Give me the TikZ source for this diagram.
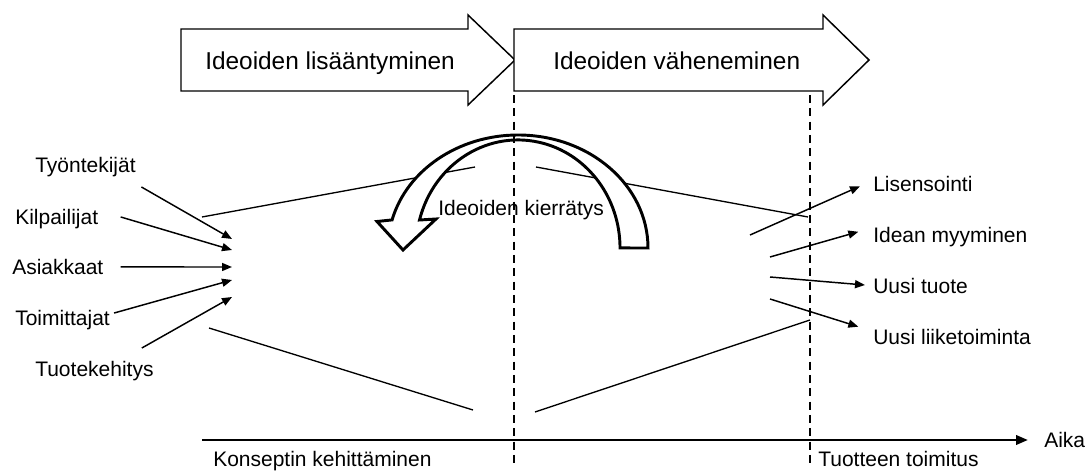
\documentclass[tikz,border=0pt]{standalone}
\usepackage{fontspec}
\setmainfont{Liberation Sans}
\usetikzlibrary{arrows.meta}
\tikzset{
  phase/.style={draw, fill=white, line width=1.1pt},
  phasetext/.style={anchor=base west, inner sep=0pt, font=\fontsize{18.3}{21}\selectfont},
  klabel/.style={anchor=base west, inner sep=0pt, text height=11.8pt, text depth=3.9pt, font=\fontsize{15.75}{18}\selectfont},
  flow/.style={-{Triangle[length=7.5pt, width=6pt]}, line width=1.1pt},
  funnel/.style={line width=1pt},
  milestone/.style={dash pattern=on 6pt off 4pt, line width=0.8pt},
  timeline/.style={-{Triangle[length=9pt, width=7pt]}, line width=2pt},
  recycle/.style={draw, fill=white, line width=2.2pt},
}

\begin{document}
\begin{tikzpicture}[x=0.75pt, y=0.75pt]
    \useasboundingbox (0,0) rectangle (1088,471);
    \draw[phase] (181,380) -- (181,442) -- (468,442) -- (468,456) -- (515,411) -- (468,366) -- (468,380) -- cycle;
    \draw[phase] (514,380) -- (514,442) -- (823,442) -- (823,456) -- (869,411) -- (823,366) -- (823,380) -- cycle;
    \node[phasetext] (grow) at (205,401) {Ideoiden lisääntyminen};
    \node[phasetext] (shrink) at (553,401) {Ideoiden väheneminen};
    \draw[funnel] (202,254) -- (475,304);
    \draw[funnel] (536,304) -- (808,254);
    \draw[funnel] (209,143) -- (473,61);
    \draw[funnel] (535,59) -- (810,151);
    \draw[recycle] (648,223) arc[start angle=0, end angle=165.6, x radius=130, y radius=113]
        -- (377,249.5) -- (403,221) -- (436,252) -- (419.5,251)
        arc[start angle=165, end angle=0, x radius=102, y radius=108] -- cycle;
    \coordinate (split) at (514,376);
    \coordinate (deliver) at (810,376);
    \draw[milestone] (split) -- ++(0,-369);
    \draw[milestone] (deliver) -- ++(0,-369);
    \node[klabel] (kierratys) at (438,255.5) {Ideoiden kierrätys};
    \node[klabel] (tyontekijat) at (35,298.5) {Työntekijät};
    \node[klabel] (kilpailijat) at (15,246.5) {Kilpailijat};
    \node[klabel] (asiakkaat) at (12,196.5) {Asiakkaat};
    \node[klabel] (toimittajat) at (15,145.5) {Toimittajat};
    \node[klabel] (tuotekehitys) at (35,94.5) {Tuotekehitys};
    \node[klabel] (lisensointi) at (873,279.5) {Lisensointi};
    \node[klabel] (myynti) at (873,228.5) {Idean myyminen};
    \node[klabel] (tuote) at (873,177.5) {Uusi tuote};
    \node[klabel] (liiketoiminta) at (873,126.5) {Uusi liiketoiminta};
    \coordinate (in1) at (232,232);
    \coordinate (in2) at (232,221);
    \coordinate (in3) at (232,204);
    \coordinate (in4) at (232,191);
    \coordinate (in5) at (232,174);
    \coordinate (out1) at (750,236);
    \coordinate (out2) at (770,214);
    \coordinate (out3) at (770,194);
    \coordinate (out4) at (770,172);
    \draw[flow] ([xshift=4.1pt, yshift=-14.8pt]tyontekijat.east) -- (in1);
    \draw[flow] ([xshift=16.7pt, yshift=1.7pt]kilpailijat.east) -- (in2);
    \draw[flow] ([xshift=12.75pt, yshift=1.7pt]asiakkaat.east) -- (in3);
    \draw[flow] ([xshift=3pt, yshift=5.4pt]toimittajat.east) -- (in4);
    \draw[flow] ([xshift=-9pt, yshift=17.4pt]tuotekehitys.east) -- (in5);
    \draw[flow] (out1) -- ([xshift=-9.75pt]lisensointi.west);
    \draw[flow] (out2) -- ([xshift=-11pt, yshift=4.1pt]myynti.west);
    \draw[flow] (out3) -- ([xshift=-6pt, yshift=2.4pt]tuote.west);
    \draw[flow] (out4) -- ([xshift=-11pt, yshift=9.4pt]liiketoiminta.west);
    \node[klabel] (konsepti) at (213,5) {Konseptin kehittäminen};
    \node[klabel] (toimitus) at (818,5) {Tuotteen toimitus};
    \node[klabel] (aika) at (1044,23.5) {Aika};
    \coordinate (t0) at (202,31);
    \draw[timeline, shorten >=12pt] (t0) -- (t0 -| aika.west);
\end{tikzpicture}
\end{document}
